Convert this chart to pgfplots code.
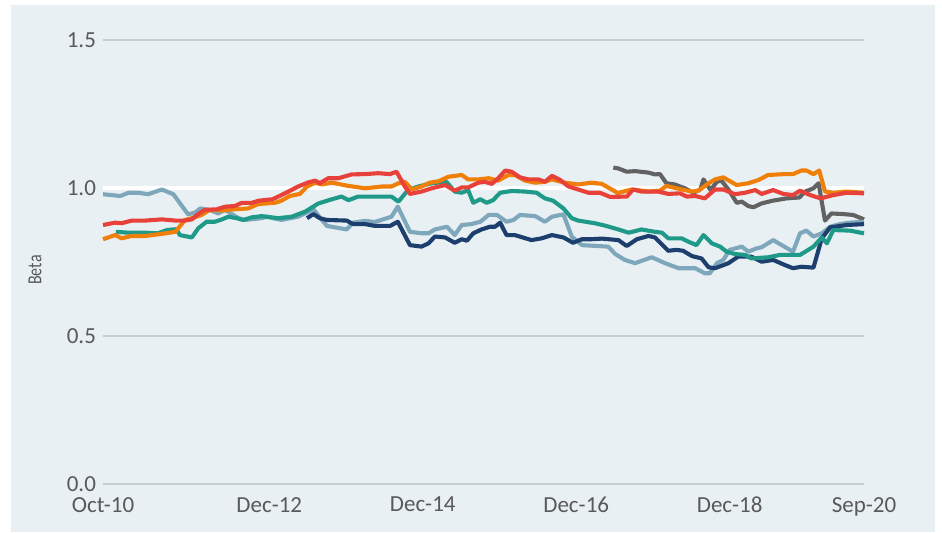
\documentclass[border=0pt]{standalone}
\usepackage{fontspec}
\setmainfont{Carlito}
\usepackage{pgfplots}
\pgfplotsset{compat=1.18}
\definecolor{bgc}{HTML}{E8F0F4}
\definecolor{gridc}{HTML}{C5CED3}
\definecolor{txt}{HTML}{595959}
\definecolor{navy}{HTML}{1D3F6E}
\definecolor{lblue}{HTML}{7FA7BC}
\definecolor{teal2}{HTML}{1F9A88}
\definecolor{orng}{HTML}{F07F09}
\definecolor{redc}{HTML}{E8413A}
\definecolor{grayc}{HTML}{626262}
\begin{document}
\begin{tikzpicture}
\path (-51.5pt,-24pt) rectangle (419.5pt,242pt);
\fill[bgc] (-46pt,-24pt) rectangle (416pt,239.5pt);
\begin{axis}[
  scale only axis, width=380.5pt, height=222pt,
  xmin=0, xmax=119, ymin=0, ymax=1.5,
  axis line style={draw=none},
  major tick length=0pt,
  xtick={0,26,50,74,98,119},
  xticklabels={Oct-10,Dec-12,Dec-14,Dec-16,Dec-18,Sep-20},
  ytick={0,0.5,1.5},
  extra y ticks={1},
  extra y tick style={grid style={white,line width=1.6pt}},
  ymajorgrids, grid style={gridc, line width=0.6pt},
  /pgf/number format/fixed, /pgf/number format/fixed zerofill,
  /pgf/number format/precision=1, /pgf/number format/assume math mode=true,
  ticklabel style={font=\fontsize{11.5}{13}\selectfont, text=txt},
  xticklabel style={yshift=-3pt},
  ylabel={\scalebox{0.8}[1]{Beta}},
  ylabel style={font=\fontsize{10}{12}\selectfont, text=txt, at={(axis description cs:-0.0894,0.482)}, anchor=center},
  clip=false,
  every axis plot/.append style={line width=2.05pt, line join=round, mark=none},
]
% dark gray
\addplot[grayc] coordinates {
(79.8,1.069)(80.6,1.066)(81.9,1.055)(83.2,1.057)(85.3,1.052)(86.3,1.046)(87.1,1.047)(88.1,1.016)(89.4,1.012)(91.0,0.999)(92.3,0.984)(93.4,0.995)(93.9,1.029)(95.0,0.993)(96.0,1.021)(96.7,1.025)(97.8,0.995)(99.1,0.950)(99.9,0.954)(100.9,0.939)(101.7,0.935)(103.0,0.948)(104.7,0.957)(106.9,0.965)(108.9,0.968)(109.8,0.988)(111.1,0.999)(111.9,1.016)(112.9,0.890)(113.9,0.914)(115.7,0.912)(117.3,0.909)(119,0.894)
};
% light blue
\addplot[lblue] coordinates {
(0,0.979)(2.7,0.973)(4.0,0.984)(5.5,0.984)(7.1,0.979)(9.2,0.995)(11.0,0.979)(13.3,0.911)(14.4,0.917)(15.2,0.931)(16.7,0.926)(18.0,0.914)(19.1,0.926)(21.2,0.898)(22.2,0.892)(24.8,0.898)(25.6,0.903)(27.9,0.892)(30.5,0.903)(32.9,0.928)(35.0,0.872)(38.1,0.860)(39.1,0.883)(41.0,0.889)(42.5,0.885)(45.1,0.903)(46.1,0.937)(48.0,0.852)(49.8,0.847)(50.9,0.847)(51.9,0.860)(53.8,0.869)(55.0,0.841)(56.1,0.875)(57.6,0.878)(59.0,0.886)(60.3,0.909)(61.6,0.909)(63.1,0.886)(64.2,0.892)(65.2,0.909)(67.6,0.905)(69.1,0.886)(70.2,0.903)(72.0,0.911)(73.3,0.836)(74.9,0.807)(79.0,0.802)(80.1,0.777)(81.6,0.757)(83.2,0.746)(85.8,0.766)(87.9,0.746)(90.0,0.729)(92.6,0.729)(94.1,0.712)(94.9,0.712)(96.0,0.746)(97.0,0.757)(98.0,0.791)(99.9,0.802)(100.9,0.785)(102.2,0.796)(103.0,0.800)(104.8,0.824)(105.5,0.815)(107.9,0.785)(109.0,0.847)(110.0,0.856)(111.1,0.836)(112.4,0.847)(113.7,0.869)(115.2,0.878)(116.8,0.883)(119,0.886)
};
% navy
\addplot[navy] coordinates {
(31.9,0.898)(32.9,0.912)(33.9,0.898)(35.0,0.892)(38.1,0.890)(39.1,0.878)(41.0,0.878)(42.5,0.872)(44.9,0.872)(46.1,0.886)(48.0,0.807)(49.8,0.802)(50.9,0.813)(51.9,0.836)(53.5,0.833)(55.0,0.815)(56.1,0.827)(56.9,0.822)(57.9,0.847)(59.2,0.860)(60.5,0.869)(61.3,0.869)(62.1,0.883)(63.1,0.841)(64.4,0.841)(67.0,0.824)(68.6,0.830)(70.2,0.841)(72.0,0.833)(73.5,0.815)(74.9,0.827)(76.4,0.827)(78.0,0.829)(80.6,0.824)(81.9,0.804)(83.5,0.827)(85.3,0.838)(86.3,0.833)(88.4,0.788)(89.7,0.791)(90.7,0.788)(92.1,0.770)(93.6,0.762)(94.7,0.732)(95.7,0.729)(97.8,0.746)(99.3,0.768)(101.4,0.768)(103.0,0.751)(104.8,0.757)(106.6,0.740)(107.9,0.729)(109.2,0.734)(111.1,0.731)(112.4,0.830)(113.7,0.867)(116.3,0.875)(119,0.878)
};
% teal
\addplot[teal2] coordinates {
(2.0,0.852)(4.0,0.849)(6.6,0.849)(8.6,0.847)(10.0,0.858)(11.5,0.861)(12.0,0.841)(13.9,0.833)(14.9,0.864)(16.2,0.886)(17.5,0.886)(18.6,0.894)(19.6,0.903)(20.9,0.898)(21.9,0.892)(23.3,0.901)(24.8,0.905)(27.4,0.898)(29.5,0.903)(31.6,0.920)(33.7,0.948)(35.8,0.962)(37.3,0.971)(38.4,0.959)(39.9,0.971)(42.0,0.971)(45.1,0.971)(46.2,0.954)(47.7,0.993)(49.3,1.005)(51.4,1.016)(53.7,1.021)(55.0,0.988)(56.1,0.984)(57.1,0.993)(57.9,0.950)(59.0,0.962)(60.0,0.950)(61.0,0.959)(62.1,0.984)(63.9,0.990)(66.0,0.988)(67.8,0.984)(69.1,0.965)(70.4,0.957)(72.0,0.931)(73.3,0.898)(74.3,0.890)(76.9,0.881)(78.5,0.873)(80.6,0.860)(82.2,0.849)(84.2,0.860)(86.3,0.852)(87.4,0.849)(88.4,0.830)(90.5,0.830)(91.5,0.819)(92.8,0.807)(93.9,0.841)(95.2,0.813)(96.5,0.802)(97.5,0.785)(98.8,0.777)(100.4,0.774)(101.4,0.762)(104.0,0.766)(105.9,0.774)(109.0,0.774)(111.1,0.802)(112.4,0.833)(113.2,0.813)(114.2,0.858)(116.8,0.856)(119,0.847)
};
% orange
\addplot[orng] coordinates {
(0,0.827)(1.9,0.841)(2.9,0.830)(4.5,0.838)(6.6,0.838)(9.2,0.845)(11.3,0.852)(12.3,0.878)(12.8,0.892)(13.9,0.898)(15.4,0.909)(16.7,0.926)(18.6,0.924)(20.6,0.928)(22.7,0.931)(24.3,0.946)(26.9,0.950)(27.9,0.957)(29.2,0.973)(30.8,0.980)(31.9,1.005)(33.2,1.018)(34.2,1.012)(35.8,1.018)(38.4,1.007)(41.0,0.999)(43.6,1.005)(45.1,1.005)(46.2,1.016)(47.2,1.021)(48.3,0.995)(49.8,1.005)(51.1,1.018)(52.5,1.023)(54.0,1.038)(56.1,1.044)(57.1,1.029)(58.7,1.029)(60.3,1.033)(61.8,1.025)(63.4,1.044)(64.4,1.044)(66.0,1.025)(67.6,1.018)(69.1,1.021)(70.2,1.029)(72.2,1.018)(74.3,1.012)(76.4,1.018)(78.0,1.014)(80.5,0.983)(82.7,0.995)(85.3,0.988)(87.1,0.991)(88.1,1.007)(90.5,0.995)(92.1,0.988)(93.1,0.991)(94.7,1.016)(95.7,1.029)(97.0,1.036)(99.1,1.010)(100.9,1.016)(102.5,1.027)(104.0,1.044)(106.6,1.047)(107.9,1.047)(109.2,1.059)(110.0,1.059)(111.1,1.047)(112.0,1.059)(112.9,0.988)(114.2,0.984)(116.3,0.988)(119,0.984)
};
% red
\addplot[redc] coordinates {
(0,0.875)(1.9,0.883)(2.9,0.881)(4.5,0.890)(6.6,0.890)(9.2,0.894)(11.3,0.890)(12.8,0.890)(13.9,0.894)(14.9,0.912)(15.9,0.926)(17.8,0.928)(19.1,0.937)(20.6,0.939)(21.7,0.950)(23.3,0.950)(24.3,0.957)(26.5,0.962)(27.4,0.971)(29.0,0.988)(30.5,1.005)(32.1,1.019)(33.2,1.025)(33.9,1.016)(35.2,1.033)(36.8,1.033)(38.9,1.046)(41.0,1.047)(43.0,1.050)(44.9,1.047)(45.9,1.055)(47.2,1.005)(48.0,0.980)(49.8,0.988)(51.4,0.999)(53.5,1.010)(55.0,0.991)(56.1,1.002)(57.1,1.002)(58.7,1.018)(59.7,1.021)(60.8,1.014)(61.8,1.033)(62.9,1.059)(63.9,1.055)(65.2,1.036)(66.5,1.029)(68.1,1.029)(69.1,1.021)(70.2,1.041)(71.5,1.027)(72.8,1.005)(74.3,0.995)(75.9,0.984)(77.7,0.984)(79.3,0.970)(81.9,0.971)(82.9,0.995)(84.2,0.988)(86.8,0.988)(88.4,0.980)(90.2,0.982)(91.3,0.971)(92.6,0.973)(94.1,0.965)(95.7,0.995)(97.0,0.995)(98.8,0.979)(100.4,0.984)(102.0,0.993)(103.0,0.980)(104.8,0.993)(106.4,0.980)(107.9,0.976)(109.0,0.991)(110.6,0.976)(112.2,0.965)(114.2,0.976)(116.3,0.984)(119,0.982)
};
\end{axis}
\end{tikzpicture}
\end{document}
